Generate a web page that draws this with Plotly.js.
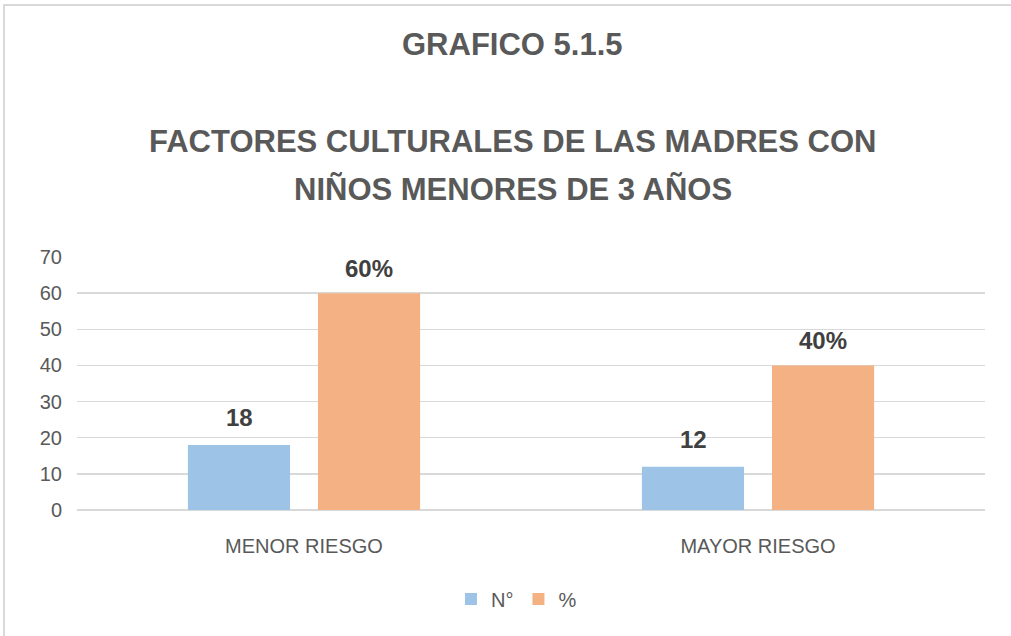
<!DOCTYPE html>
<html>
<head>
<meta charset="utf-8">
<script src="https://cdn.plot.ly/plotly-3.0.1.min.js"></script>
<style>
html,body{margin:0;padding:0;background:#fff;}
#wrap{position:relative;width:1011px;height:636px;overflow:hidden;}
#frame{position:absolute;left:3px;top:4px;width:1020px;height:640px;border-left:2px solid #d9d9d9;border-top:2px solid #d9d9d9;pointer-events:none;}
#chart{position:absolute;left:0;top:0;width:1011px;height:636px;}
</style>
</head>
<body>
<div id="wrap"><div id="chart"></div><div id="frame"></div></div>
<script>
const categories = ["MENOR RIESGO", "MAYOR RIESGO"];
const countValues = [18, 12];
const percentValues = [60, 40];
const countLabels = ["18", "12"];
const percentLabels = ["60%", "40%"];
const seriesNames = ["N°", "%"];
const yTicks = [0, 10, 20, 30, 40, 50, 60, 70];
const titleLines = ["GRAFICO 5.1.5", "FACTORES CULTURALES DE LAS MADRES CON", "NIÑOS MENORES DE 3 AÑOS"];

const FONT = "Liberation Sans, Arial, sans-serif";
const labelFont = {family: FONT, size: 24, color: "#404040"};

const traces = [
  {
    type: "bar", name: seriesNames[0], x: categories, y: countValues,
    marker: {color: "#9DC3E6"}, hoverinfo: "none"
  },
  {
    type: "bar", name: seriesNames[1], x: categories, y: percentValues,
    marker: {color: "#F4B183"}, hoverinfo: "none"
  }
];

const titleY = [1.838, 1.458, 1.265];
const annotations = titleLines.map((t, i) => ({
  text: "<b>" + t + "</b>", xref: "paper", yref: "paper",
  x: 0.480, y: titleY[i], xanchor: "center", yanchor: "middle",
  showarrow: false,
  font: {family: FONT, size: 31, color: "#595959"}
}));

// data labels placed on the bars' own values via the axes
const barHalfSlot = 65; // half of a group slot in px
categories.forEach((c, i) => {
  annotations.push({
    text: "<b>" + countLabels[i] + "</b>", xref: "x", yref: "y",
    x: c, y: countValues[i], xshift: -barHalfSlot, yshift: 12,
    xanchor: "center", yanchor: "bottom", showarrow: false, font: labelFont
  });
  annotations.push({
    text: "<b>" + percentLabels[i] + "</b>", xref: "x", yref: "y",
    x: c, y: percentValues[i], xshift: barHalfSlot, yshift: 9,
    xanchor: "center", yanchor: "bottom", showarrow: false, font: labelFont
  });
});

const layout = {
  width: 1011, height: 636,
  margin: {l: 77, r: 26, t: 257, b: 126},
  paper_bgcolor: "rgba(0,0,0,0)", plot_bgcolor: "#ffffff",
  barmode: "group", bargap: 0.427, bargroupgap: 0.215,
  showlegend: true,
  legend: {
    orientation: "h", x: 0.484, xanchor: "center", y: -0.352, yanchor: "middle",
    font: {family: FONT, size: 20, color: "#595959"},
    traceorder: "normal", itemwidth: 30
  },
  xaxis: {
    type: "category", showgrid: false, zeroline: false, showline: false,
    ticks: "", ticklabelstandoff: 22,
    tickfont: {family: FONT, size: 20, color: "#595959"}
  },
  yaxis: {
    range: [0, 70], tickmode: "array", tickvals: yTicks, ticktext: yTicks.map(String),
    showgrid: true, gridcolor: "#d9d9d9", gridwidth: 1.5,
    zeroline: true, zerolinecolor: "#d9d9d9", zerolinewidth: 1.5,
    showline: false, ticks: "", ticklabelstandoff: 14,
    tickfont: {family: FONT, size: 20, color: "#595959"}
  },
  annotations: annotations
};

Plotly.newPlot("chart", traces, layout, {displayModeBar: false, staticPlot: true});
</script>
</body>
</html>
